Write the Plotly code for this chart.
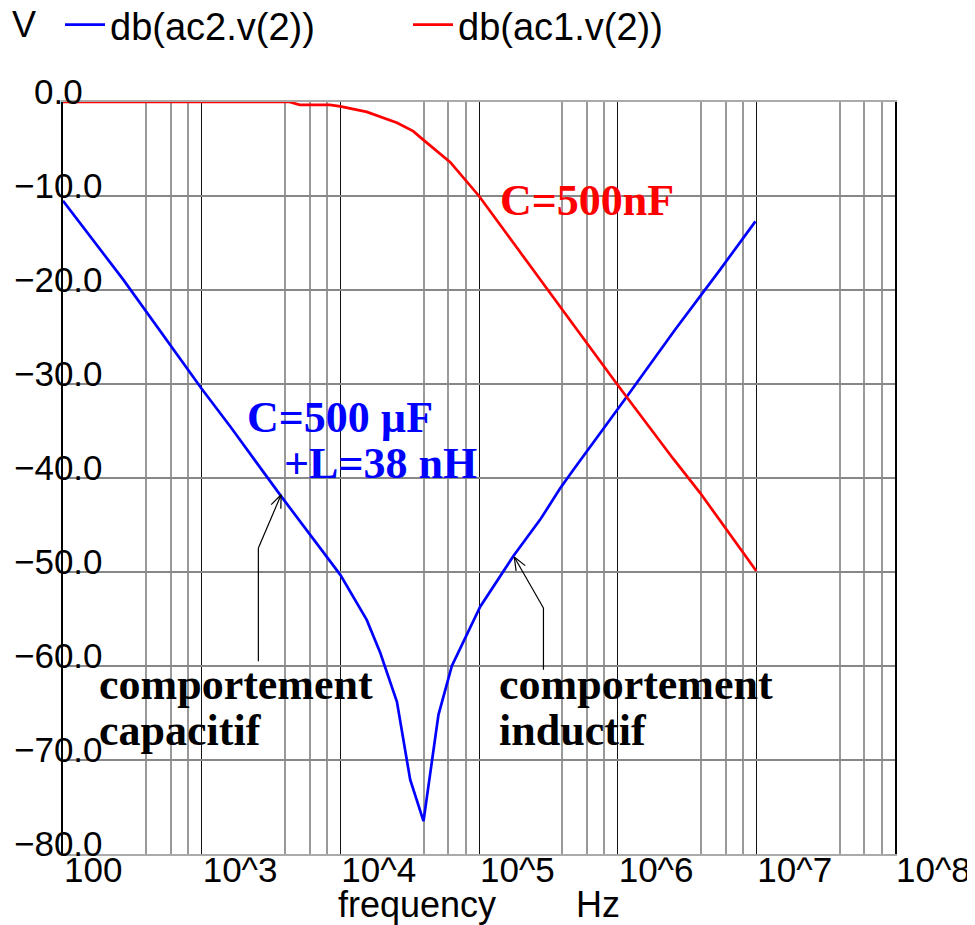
import math
import plotly.graph_objects as go

# ---------------- data ----------------
freq_ac2 = [100, 272, 1000, 1603, 3680, 10000, 15500, 19400, 25600, 31900, 39800,
            51000, 63700, 77300, 102000, 177000, 277000, 385000, 481000,
            1170000, 2600000, 5500000, 9850000]
db_ac2 = [-10.5, -18.9, -30.5, -34.5, -41.8, -50.3, -55.1, -58.6, -63.8, -72.1, -76.5,
          -65.2, -60.0, -57.4, -53.7, -48.3, -44.4, -41.1, -39.1,
          -31.3, -24.2, -17.8, -12.7]

freq_ac1 = [100, 1000, 4300, 5100, 8400, 10000, 15500, 25600, 33500, 39500, 62000,
            100000, 246000, 315000, 508000, 1000000, 2530000, 3940000, 10000000]
db_ac1 = [0.0, 0.0, 0.0, -0.3, -0.3, -0.47, -1.05, -2.2, -3.1, -4.0, -6.4,
          -10.0, -17.8, -20.0, -24.2, -30.1, -38.0, -41.6, -49.9]

series_names = ["db(ac2.v(2))", "db(ac1.v(2))"]

x_tick_vals = [1e2, 1e3, 1e4, 1e5, 1e6, 1e7, 1e8]
x_tick_text = ["100", "10^3", "10^4", "10^5", "10^6", "10^7", "10^8"]
x_minor_vals = [m * 10 ** d for d in range(2, 8) for m in (4, 6, 8)]
y_tick_vals = [0, -10, -20, -30, -40, -50, -60, -70, -80]
y_tick_text = ["0.0", "\u221210.0", "\u221220.0", "\u221230.0", "\u221240.0",
               "\u221250.0", "\u221260.0", "\u221270.0", "\u221280.0"]

# ---------------- layout constants ----------------
# the page body adds an 8px offset, so the figure is 8px smaller than the window
W, H = 967, 917
ML, MT = 55, 94
PLOT_W, PLOT_H = 832, 752
MR = W - ML - PLOT_W
MB = H - MT - PLOT_H
X_RANGE = [2, 8]
Y_RANGE = [-80, 0]
PX_PER_DEC = PLOT_W / (X_RANGE[1] - X_RANGE[0])
PX_PER_DB = PLOT_H / (Y_RANGE[1] - Y_RANGE[0])

SANS = "Liberation Sans, Arial, sans-serif"
SERIF = "Liberation Serif, Times New Roman, serif"
BLUE = "#0000ff"
RED = "#ff0000"

fig = go.Figure()
fig.add_trace(go.Scatter(x=freq_ac2, y=db_ac2, mode="lines", name=series_names[0],
                         line=dict(color=BLUE, width=2.7)))
fig.add_trace(go.Scatter(x=freq_ac1, y=db_ac1, mode="lines", name=series_names[1],
                         line=dict(color=RED, width=2.7)))

annotations = []
# y tick labels, centred over the left axis
for v, t in zip(y_tick_vals, y_tick_text):
    annotations.append(dict(x=-5 / PLOT_W, xref="paper", y=v, yref="y", text=t,
                            showarrow=False, xanchor="center", yanchor="middle",
                            yshift=11, font=dict(family=SANS, size=35, color="black")))
# "V" unit label
annotations.append(dict(x=(24 - 8 - ML) / PLOT_W, xref="paper",
                        y=1 + (MT - (25 - 8)) / PLOT_H,
                        yref="paper", text="V", showarrow=False, xanchor="center",
                        yanchor="middle", font=dict(family=SANS, size=36, color="black")))

# text labels on the chart (x in log10(Hz), y in dB)
labels = [
    ("C=500nF", 5.137, -10.5, RED),
    ("C=500 \u00b5F", 3.313, -33.6, BLUE),
    ("+L=38 nH", 3.578, -38.5, BLUE),
    ("comportement", 2.245, -62.0, "black"),
    ("capacitif", 2.245, -66.9, "black"),
    ("comportement", 5.131, -62.0, "black"),
    ("inductif", 5.131, -66.9, "black"),
]
for t, lx, ly, c in labels:
    annotations.append(dict(x=lx, xref="x", y=ly, yref="y", text="<b>%s</b>" % t,
                            showarrow=False, xanchor="left", yanchor="middle",
                            font=dict(family=SERIF, size=44, color=c)))

# bent pointer arrows: (tip f, tip dB), (knee f, knee dB), foot dB
arrows = [
    ((3741, -41.78), (2564, -47.45), -59.5),
    ((179500, -48.4), (291600, -53.83), -60.4),
]
shapes = []
line_style = dict(color="black", width=1.2)
for (tf, tdb), (kf, kdb), fdb in arrows:
    shapes.append(dict(type="line", xref="x", yref="y", x0=kf, y0=fdb, x1=kf, y1=kdb,
                       line=line_style))
    shapes.append(dict(type="line", xref="x", yref="y", x0=kf, y0=kdb, x1=tf, y1=tdb,
                       line=line_style))
    # open arrow head
    dx = (math.log10(kf) - math.log10(tf)) * PX_PER_DEC
    dy = (kdb - tdb) * PX_PER_DB
    n = math.hypot(dx, dy)
    ux, uy = dx / n, dy / n
    for ang in (math.radians(22), math.radians(-22)):
        rx = ux * math.cos(ang) - uy * math.sin(ang)
        ry = ux * math.sin(ang) + uy * math.cos(ang)
        ef = 10 ** (math.log10(tf) + rx * 14 / PX_PER_DEC)
        edb = tdb + ry * 14 / PX_PER_DB
        shapes.append(dict(type="line", xref="x", yref="y", x0=tf, y0=tdb, x1=ef, y1=edb,
                           line=line_style))

fig.update_layout(
    width=W, height=H,
    margin=dict(l=ML, r=MR, t=MT, b=MB, pad=0, autoexpand=False),
    paper_bgcolor="white", plot_bgcolor="white",
    font=dict(family=SANS, size=35, color="black"),
    showlegend=True,
    legend=dict(orientation="h", x=-3 / PLOT_W, xanchor="left",
                y=1 + (MT - (25 - 8)) / PLOT_H,
                yanchor="middle", font=dict(family=SANS, size=38, color="black"),
                entrywidth=293, entrywidthmode="pixels", itemwidth=40,
                bgcolor="rgba(0,0,0,0)", traceorder="normal"),
    xaxis=dict(type="log", range=X_RANGE, tickmode="array", tickvals=x_tick_vals,
               ticktext=x_tick_text, ticks="", ticklabelposition="outside right",
               ticklabelstandoff=-16,
               tickfont=dict(family=SANS, size=35, color="black"),
               showgrid=True, gridcolor="#111111", gridwidth=1,
               minor=dict(tickmode="array", tickvals=x_minor_vals, showgrid=True,
                          gridcolor="#999999", gridwidth=1.5, ticks=""),
               showline=True, linecolor="#aaaaaa", linewidth=2, mirror=True,
               zeroline=False,
               title=dict(text="frequency" + "\u00a0" * 8 + "Hz", standoff=6,
                          font=dict(family=SANS, size=36, color="black")),
               automargin=False),
    yaxis=dict(range=Y_RANGE, tickmode="array", tickvals=y_tick_vals,
               showticklabels=False, ticks="",
               showgrid=True, gridcolor="#888888", gridwidth=1.5,
               showline=True, linecolor="black", linewidth=1.5, mirror=True,
               zeroline=False, automargin=False),
    annotations=annotations,
    shapes=shapes,
)

fig.write_html("out.html")
